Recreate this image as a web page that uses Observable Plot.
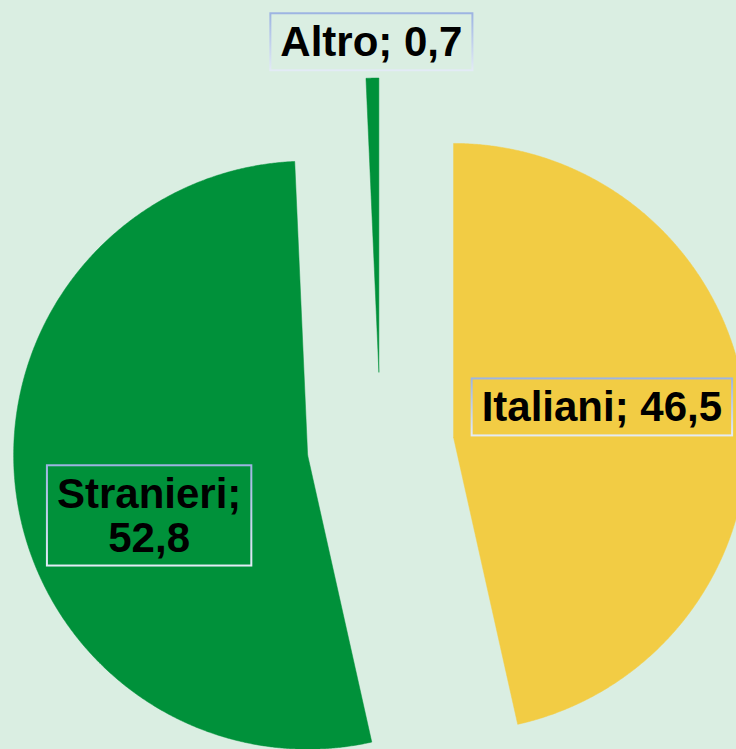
<!DOCTYPE html>
<html>
<head>
<meta charset="utf-8">
<script src="https://cdn.jsdelivr.net/npm/d3@7"></script>
<script src="https://cdn.jsdelivr.net/npm/@observablehq/plot@0.6"></script>
<style>
  html, body { margin: 0; padding: 0; background: #DAEEE2; }
  #chart svg { display: block; }
</style>
</head>
<body>
<div id="chart"></div>
<script>
// ---- data ----
const categories = ["Italiani", "Stranieri", "Altro"];
const values = [46.5, 52.8, 0.7];
const labels = ["Italiani; 46,5", "Stranieri;\n52,8", "Altro; 0,7"];
const colors = ["#F2CC44", "#00913A", "#00913A"];

// ---- layout (unit = pie radius) ----
const W = 736, H = 749;
const R = 294;             // radius in px
const CX = 380, CY = 445;  // pie centre in px
const explode = 0.25;      // explosion as fraction of radius
const labelPos = [[0.753, 0.129], [-0.787, -0.240], [-0.031, 1.371]];

const arcs = d3.pie().sort(null).value(d => d)(values);
const pts = [];
arcs.forEach((a, i) => {
  const mid = (a.startAngle + a.endAngle) / 2;
  const ox = explode * Math.sin(mid), oy = explode * Math.cos(mid);
  pts.push({cat: categories[i], x: ox, y: oy});
  const n = Math.max(4, Math.ceil((a.endAngle - a.startAngle) / 0.005));
  for (let k = 0; k <= n; k++) {
    const t = a.startAngle + (a.endAngle - a.startAngle) * k / n;
    pts.push({cat: categories[i], x: ox + Math.sin(t), y: oy + Math.cos(t)});
  }
  pts.push({cat: categories[i], x: ox, y: oy});
});

const labelData = categories.map((c, i) => ({cat: c, label: labels[i], x: labelPos[i][0], y: labelPos[i][1]}));

const plot = Plot.plot({
  width: W,
  height: H,
  margin: 0,
  style: {background: "#DAEEE2", fontFamily: "'Liberation Sans', Arial, sans-serif"},
  x: {domain: [-CX / R, (W - CX) / R], axis: null},
  y: {domain: [-(H - CY) / R, CY / R], axis: null},
  color: {domain: categories, range: colors},
  marks: [
    Plot.line(pts, {x: "x", y: "y", z: "cat", fill: "cat", stroke: "cat", strokeWidth: 0.5, curve: "linear"}),
    Plot.text(labelData, {
      x: "x", y: "y", text: "label",
      fontSize: 42, fontWeight: "bold", fill: "black",
      textAnchor: "middle", lineAnchor: "middle", lineHeight: 1.03
    })
  ]
});

document.getElementById("chart").append(plot);

// boxes around labels
const ns = "http://www.w3.org/2000/svg";
const svg = plot.tagName.toLowerCase() === "svg" ? plot : plot.querySelector("svg");
const defs = document.createElementNS(ns, "defs");
defs.innerHTML = '<linearGradient id="boxgrad" x1="0" y1="0" x2="0" y2="1"><stop offset="0" stop-color="#9db4e2"/><stop offset="1" stop-color="#e3ebf6"/></linearGradient>';
svg.insertBefore(defs, svg.firstChild);
const g = svg.querySelector('g[aria-label="text"]');
if (g) {
  Array.from(g.querySelectorAll("text")).forEach(t => {
    const b = t.getBBox();
    const r = document.createElementNS(ns, "rect");
    r.setAttribute("x", b.x - 10);
    r.setAttribute("y", b.y - 5);
    r.setAttribute("width", b.width + 20);
    r.setAttribute("height", b.height + 10);
    r.setAttribute("fill", "none");
    r.setAttribute("stroke", "url(#boxgrad)");
    r.setAttribute("stroke-width", 2);
    const tr = t.getAttribute("transform");
    if (tr) r.setAttribute("transform", tr);
    g.insertBefore(r, t);
  });
}
</script>
</body>
</html>
